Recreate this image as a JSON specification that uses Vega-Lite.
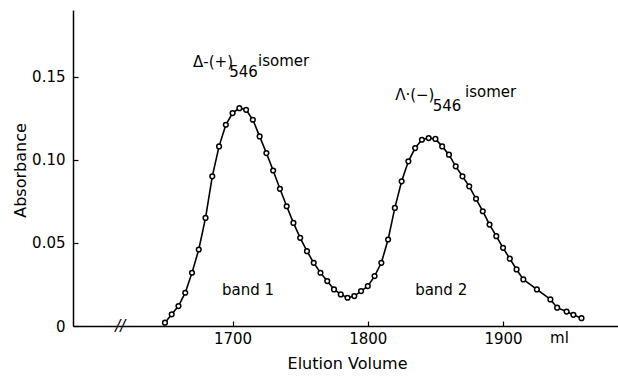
{
  "$schema": "https://vega.github.io/schema/vega-lite/v6.json",
  "width": 545,
  "height": 316,
  "autosize": "none",
  "padding": {"left": 73, "top": 10, "right": 0, "bottom": 51},
  "background": "white",
  "config": {"view": {"stroke": null}, "font": "DejaVu Sans"},
  "datasets": {
    "curve": [
      {"ml": 1650, "abs": 0.002}, {"ml": 1655, "abs": 0.007}, {"ml": 1660, "abs": 0.012},
      {"ml": 1665, "abs": 0.020}, {"ml": 1670, "abs": 0.032}, {"ml": 1675, "abs": 0.046},
      {"ml": 1680, "abs": 0.065}, {"ml": 1685, "abs": 0.090}, {"ml": 1690, "abs": 0.108},
      {"ml": 1695, "abs": 0.121}, {"ml": 1700, "abs": 0.128}, {"ml": 1705, "abs": 0.131},
      {"ml": 1710, "abs": 0.130}, {"ml": 1715, "abs": 0.124}, {"ml": 1720, "abs": 0.114},
      {"ml": 1725, "abs": 0.104}, {"ml": 1730, "abs": 0.0935}, {"ml": 1735, "abs": 0.0825},
      {"ml": 1740, "abs": 0.072}, {"ml": 1745, "abs": 0.062}, {"ml": 1750, "abs": 0.053},
      {"ml": 1755, "abs": 0.045}, {"ml": 1760, "abs": 0.038}, {"ml": 1765, "abs": 0.032},
      {"ml": 1770, "abs": 0.027}, {"ml": 1775, "abs": 0.022}, {"ml": 1780, "abs": 0.019},
      {"ml": 1785, "abs": 0.017}, {"ml": 1790, "abs": 0.018}, {"ml": 1795, "abs": 0.021},
      {"ml": 1800, "abs": 0.024}, {"ml": 1805, "abs": 0.030}, {"ml": 1810, "abs": 0.038},
      {"ml": 1815, "abs": 0.052}, {"ml": 1820, "abs": 0.071}, {"ml": 1825, "abs": 0.087},
      {"ml": 1830, "abs": 0.099}, {"ml": 1835, "abs": 0.107}, {"ml": 1840, "abs": 0.112},
      {"ml": 1845, "abs": 0.113}, {"ml": 1850, "abs": 0.1125}, {"ml": 1855, "abs": 0.108},
      {"ml": 1860, "abs": 0.103}, {"ml": 1865, "abs": 0.096}, {"ml": 1870, "abs": 0.090},
      {"ml": 1875, "abs": 0.084}, {"ml": 1880, "abs": 0.0765}, {"ml": 1885, "abs": 0.069},
      {"ml": 1890, "abs": 0.061}, {"ml": 1895, "abs": 0.054}, {"ml": 1900, "abs": 0.047},
      {"ml": 1905, "abs": 0.0405}, {"ml": 1910, "abs": 0.034}, {"ml": 1915, "abs": 0.028},
      {"ml": 1925, "abs": 0.022}, {"ml": 1935, "abs": 0.016}, {"ml": 1940, "abs": 0.011},
      {"ml": 1947, "abs": 0.0087}, {"ml": 1952, "abs": 0.0067}, {"ml": 1958, "abs": 0.0047}
    ],
    "notes": [
      {"ml": 1670.8, "abs": 0.1588, "label": "Δ-(+)"},
      {"ml": 1697.5, "abs": 0.1525, "label": "546"},
      {"ml": 1718.8, "abs": 0.1594, "label": "isomer"},
      {"ml": 1820.2, "abs": 0.1389, "label": "Λ·(−)"},
      {"ml": 1848.0, "abs": 0.1320, "label": "546"},
      {"ml": 1871.9, "abs": 0.1407, "label": "isomer"},
      {"ml": 1692.2, "abs": 0.0216, "label": "band 1"},
      {"ml": 1835.0, "abs": 0.0216, "label": "band 2"},
      {"ml": 1934.8, "abs": -0.0072, "label": "ml"}
    ],
    "brk": [{"ml": 1617, "abs": 0, "label": "//"}]
  },
  "layer": [
    {
      "data": {"name": "curve"},
      "mark": {"type": "line", "color": "black", "strokeWidth": 1.6},
      "encoding": {
        "x": {
          "field": "ml", "type": "quantitative",
          "scale": {"domain": [1582, 1985], "nice": false, "zero": false},
          "axis": {
            "values": [1700, 1800, 1900], "format": "d", "grid": false, "domainColor": "black", "domainWidth": 1.5,
            "tickColor": "black", "tickSize": -5, "tickWidth": 1.2, "labelPadding": 10,
            "labelFontSize": 15, "labelColor": "black", "labelFont": "DejaVu Sans",
            "title": "Elution Volume", "titleFontSize": 16, "titleFontWeight": "normal",
            "titleColor": "black", "titleX": 274, "titleY": 37, "titleBaseline": "middle", "titleAnchor": null
          }
        },
        "y": {
          "field": "abs", "type": "quantitative",
          "scale": {"domain": [0, 0.19], "nice": false},
          "axis": {
            "values": [0, 0.05, 0.1, 0.15], "grid": false, "domainColor": "black", "domainWidth": 1.5,
            "tickColor": "black", "tickSize": -5, "tickWidth": 1.2, "labelPadding": 13,
            "labelExpr": "datum.value == 0 ? '0' : format(datum.value, '.2f')",
            "labelFontSize": 15, "labelColor": "black", "labelFont": "DejaVu Sans",
            "title": "Absorbance", "titleFontSize": 16, "titleFontWeight": "normal",
            "titleColor": "black", "titleX": -53, "titleY": 160, "titleAngle": -90,
            "titleBaseline": "middle", "titleAnchor": null
          }
        }
      }
    },
    {
      "data": {"name": "curve"},
      "mark": {"type": "point", "shape": "circle", "filled": false, "fill": "white", "stroke": "black", "strokeWidth": 1.5, "size": 22, "opacity": 1},
      "encoding": {
        "x": {"field": "ml", "type": "quantitative"},
        "y": {"field": "abs", "type": "quantitative"}
      }
    },
    {
      "data": {"name": "notes"},
      "mark": {"type": "text", "align": "left", "baseline": "middle", "fontSize": 15, "color": "black", "clip": false},
      "encoding": {
        "x": {"field": "ml", "type": "quantitative"},
        "y": {"field": "abs", "type": "quantitative"},
        "text": {"field": "label"}
      }
    },
    {
      "data": {"name": "brk"},
      "mark": {"type": "text", "align": "center", "baseline": "middle", "fontSize": 15, "color": "black", "fontStyle": "italic"},
      "encoding": {
        "x": {"field": "ml", "type": "quantitative"},
        "y": {"field": "abs", "type": "quantitative"},
        "text": {"field": "label"}
      }
    }
  ]
}
